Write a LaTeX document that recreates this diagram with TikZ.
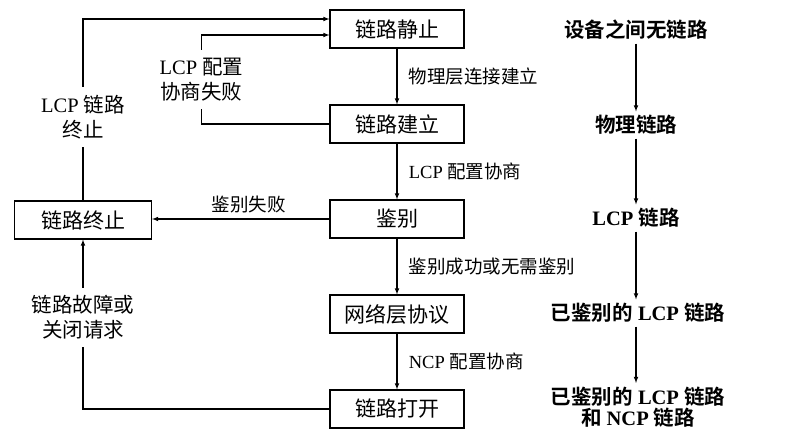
\documentclass[tikz,border=0pt]{standalone}
\usepackage{fontspec}
\setmainfont{Liberation Serif}
\newfontfamily\cjk{Noto Sans CJK SC}[BoldFont={Noto Sans CJK SC Bold}]
\usetikzlibrary{positioning}

\newcommand{\zh}[1]{{\cjk #1}}

\begin{document}
\begin{tikzpicture}[x=1pt, y=-1pt, >=latex, line width=1.1pt,
    state/.style={draw, minimum width=134pt, minimum height=38pt, font=\fontsize{21}{24}\selectfont},
    lbl/.style={font=\fontsize{18.5}{21}\selectfont, align=center},
    side/.style={font=\fontsize{20.5}{25}\selectfont, align=center, fill=white, inner sep=8pt},
    phase/.style={font=\bfseries\fontsize{20.5}{21}\selectfont, align=center}]
    \useasboundingbox (0,0) rectangle (808,446);

    % states of the link
    \node[state] (quiet) at (397,29) {\zh{链路静止}};
    \node[state] (setup) at (397,124) {\zh{链路建立}};
    \node[state] (auth) at (397,219) {\zh{鉴别}};
    \node[state] (netp) at (397,314) {\zh{网络层协议}};
    \node[state] (open) at (397,409) {\zh{链路打开}};
    \node[state, minimum width=137pt] (term) at (83,220) {\zh{链路终止}};

    \draw[->] (quiet) -- node[lbl, right=8pt] {\zh{物理层连接建立}} (setup);
    \draw[->] (setup) -- node[lbl, right=8pt] {LCP \zh{配置协商}} (auth);
    \draw[->] (auth) -- node[lbl, right=8pt] {\zh{鉴别成功或无需鉴别}} (netp);
    \draw[->] (netp) -- node[lbl, right=8pt] {NCP \zh{配置协商}} (open);
    \draw[->] (auth.west) -- node[lbl, above=2pt, xshift=8pt] {\zh{鉴别失败}} (auth.west -| term.east);

    % loops back on the left
    \draw[->] (open.west) -| node[side, pos=0.77] {\zh{链路故障或}\\\zh{关闭请求}} (term.south);
    \draw[->] (term.north) |- node[side, pos=0.23] {LCP \zh{链路}\\\zh{终止}} ([yshift=10pt]quiet.west);
    \draw[->] (setup.west) -- ++(-128,0) |- node[side, pos=0.25] {LCP \zh{配置}\\\zh{协商失败}} ([yshift=-6pt]quiet.west);

    % phases on the right
    \node[phase] (p0) at (636,30) {\zh{设备之间无链路}};
    \node[phase] (p1) at (636,125) {\zh{物理链路}};
    \node[phase] (p2) at (636,218) {LCP \zh{链路}};
    \node[phase] (p3) at (638,313) {\zh{已鉴别的} LCP \zh{链路}};
    \node[phase] (p4) at (638,407) {\zh{已鉴别的} LCP \zh{链路}\\\zh{和} NCP \zh{链路}};

    \draw[->] (p0) -- (p1);
    \draw[->] (p1) -- (p2);
    \draw[->] (p2.south) -- (p2.south |- p3.north);
    \draw[->] (p3.south -| p2) -- (p2 |- p4.north);
\end{tikzpicture}
\end{document}
